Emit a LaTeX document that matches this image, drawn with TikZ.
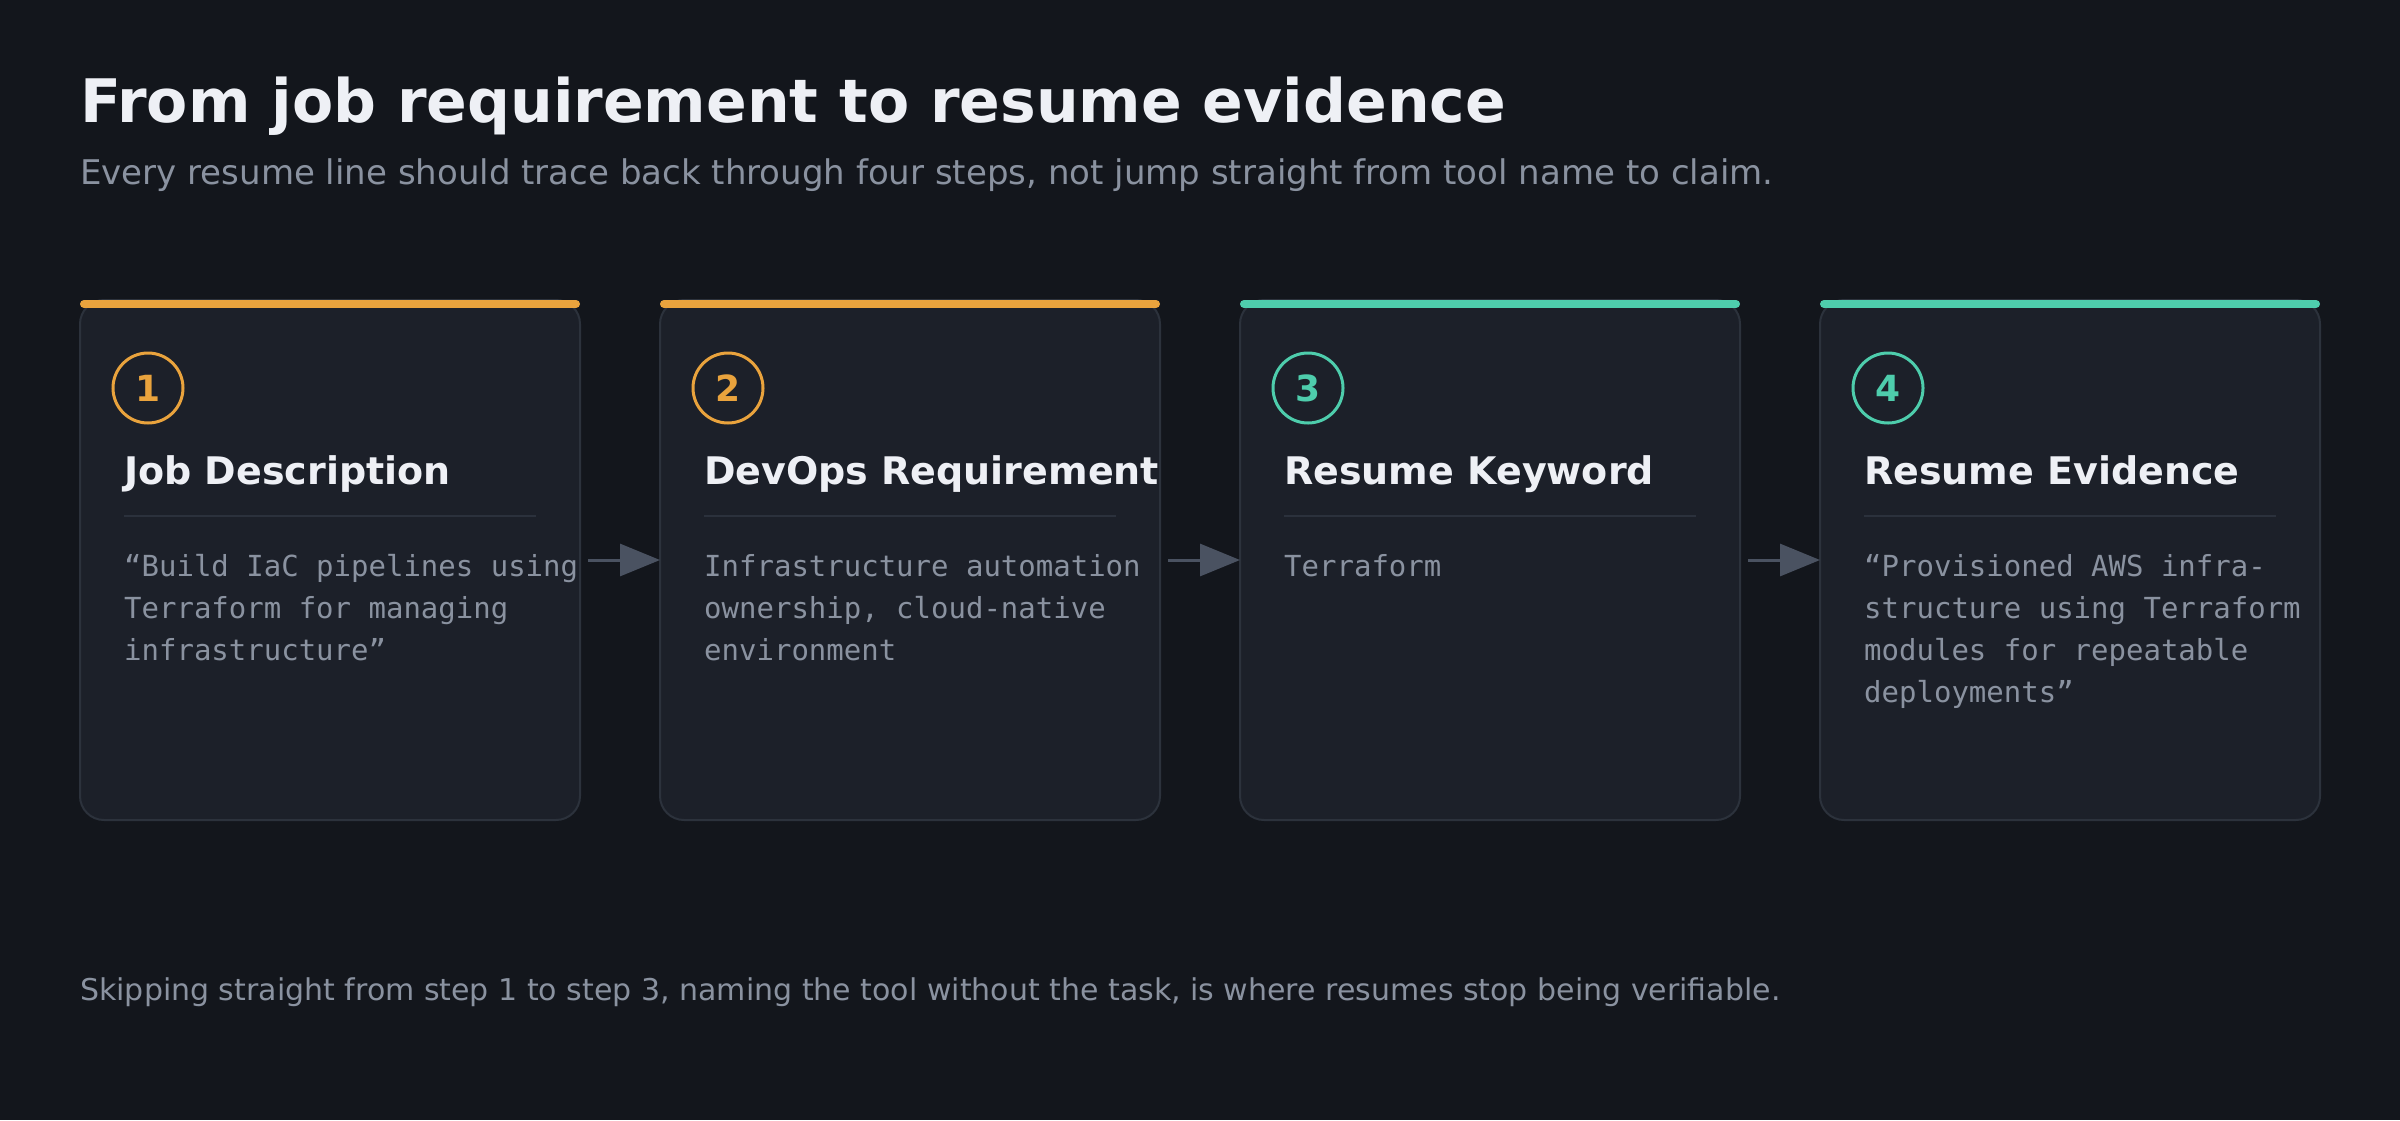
\documentclass[tikz,border=0pt]{standalone}
\usepackage{fontspec}
\setmainfont{DejaVu Sans}
\setmonofont{DejaVu Sans Mono}
\usetikzlibrary{positioning,arrows.meta}

\definecolor{pagebg}{HTML}{13161C}
\definecolor{cardbg}{HTML}{1C2029}
\definecolor{cardline}{HTML}{2C323C}
\definecolor{ruleline}{HTML}{2B313C}
\definecolor{arrowgray}{HTML}{4A5261}
\definecolor{headwhite}{HTML}{EEF0F5}
\definecolor{mutedgray}{HTML}{8A92A0}
\definecolor{accorange}{HTML}{E9A33D}
\definecolor{accteal}{HTML}{4ECDAC}

\begin{document}
\begin{tikzpicture}[
    x=1pt, y=-1pt,
    node distance=80pt,
    stepcard/.style={rectangle, draw=cardline, line width=2pt, fill=cardbg, rounded corners=24pt, minimum width=500pt, minimum height=520pt, outer sep=0pt, inner sep=0pt},
    accentbar/.style={line width=8pt, line cap=round},
    stepnum/.style={circle, line width=3pt, minimum size=70pt, inner sep=0pt, font=\bfseries\fontsize{36}{40}\selectfont},
    stephead/.style={inner sep=0pt, text=headwhite, font=\bfseries\fontsize{38}{46}\selectfont},
    stepbody/.style={inner sep=0pt, align=left, text=mutedgray, font=\ttfamily\fontsize{29}{42}\selectfont},
    sepline/.style={draw=ruleline, line width=2pt},
    flow/.style={-{Triangle[length=40pt,width=32pt]}, draw=arrowgray, fill=arrowgray, line width=3pt, shorten <=8pt}
]

% page
\fill[pagebg] (0,0) rectangle (2400,1120);

\node[anchor=base west, inner sep=0pt, text=headwhite, font=\bfseries\fontsize{60}{72}\selectfont] (title) at (80,122) {From job requirement to resume evidence};
\node[anchor=base west, inner sep=0pt, text=mutedgray, font=\fontsize{34}{40}\selectfont] (subtitle) at (80,184) {Every resume line should trace back through four steps, not jump straight from tool name to claim.};

% Cards
\node[stepcard, anchor=north west] (card1) at (80,300) {};
\node[stepcard, right=of card1] (card2) {};
\node[stepcard, right=of card2] (card3) {};
\node[stepcard, right=of card3] (card4) {};

\draw[accentbar, draw=accorange] ([shift={(4pt,-4pt)}]card1.north west) -- ([shift={(-4pt,-4pt)}]card1.north east);
\draw[accentbar, draw=accorange] ([shift={(4pt,-4pt)}]card2.north west) -- ([shift={(-4pt,-4pt)}]card2.north east);
\draw[accentbar, draw=accteal] ([shift={(4pt,-4pt)}]card3.north west) -- ([shift={(-4pt,-4pt)}]card3.north east);
\draw[accentbar, draw=accteal] ([shift={(4pt,-4pt)}]card4.north west) -- ([shift={(-4pt,-4pt)}]card4.north east);

% Step numbers
\node[stepnum, draw=accorange, text=accorange] (num1) at ([shift={(68pt,-88pt)}]card1.north west) {1};
\node[stepnum, draw=accorange, text=accorange] (num2) at ([shift={(68pt,-88pt)}]card2.north west) {2};
\node[stepnum, draw=accteal, text=accteal] (num3) at ([shift={(68pt,-88pt)}]card3.north west) {3};
\node[stepnum, draw=accteal, text=accteal] (num4) at ([shift={(68pt,-88pt)}]card4.north west) {4};

% Headings
\node[stephead, anchor=base west] (head1) at ([shift={(44pt,-184pt)}]card1.north west) {Job Description};
\node[stephead, anchor=base west] (head2) at ([shift={(44pt,-184pt)}]card2.north west) {DevOps Requirement};
\node[stephead, anchor=base west] (head3) at ([shift={(44pt,-184pt)}]card3.north west) {Resume Keyword};
\node[stephead, anchor=base west] (head4) at ([shift={(44pt,-184pt)}]card4.north west) {Resume Evidence};

\draw[sepline] ([shift={(44pt,-216pt)}]card1.north west) -- ([shift={(-44pt,-216pt)}]card1.north east);
\draw[sepline] ([shift={(44pt,-216pt)}]card2.north west) -- ([shift={(-44pt,-216pt)}]card2.north east);
\draw[sepline] ([shift={(44pt,-216pt)}]card3.north west) -- ([shift={(-44pt,-216pt)}]card3.north east);
\draw[sepline] ([shift={(44pt,-216pt)}]card4.north west) -- ([shift={(-44pt,-216pt)}]card4.north east);

% Card texts (base = last line)
\node[stepbody, anchor=base west] (body1) at ([shift={(44pt,-360pt)}]card1.north west) {“Build IaC pipelines using\\Terraform for managing\\infrastructure”};
\node[stepbody, anchor=base west] (body2) at ([shift={(44pt,-360pt)}]card2.north west) {Infrastructure automation\\ownership, cloud-native\\environment};
\node[stepbody, anchor=base west] (body3) at ([shift={(44pt,-276pt)}]card3.north west) {Terraform};
\node[stepbody, anchor=base west] (body4) at ([shift={(44pt,-402pt)}]card4.north west) {“Provisioned AWS infra-\\structure using Terraform\\modules for repeatable\\deployments”};

\draw[flow] (card1) -- (card2);
\draw[flow] (card2) -- (card3);
\draw[flow] (card3) -- (card4);

\node[anchor=base west, inner sep=0pt, text=mutedgray, font=\fontsize{30}{36}\selectfont] (footer) at (80,1000) {Skipping straight from step 1 to step 3, naming the tool without the task, is where resumes stop being verifiable.};

\end{tikzpicture}
\end{document}
